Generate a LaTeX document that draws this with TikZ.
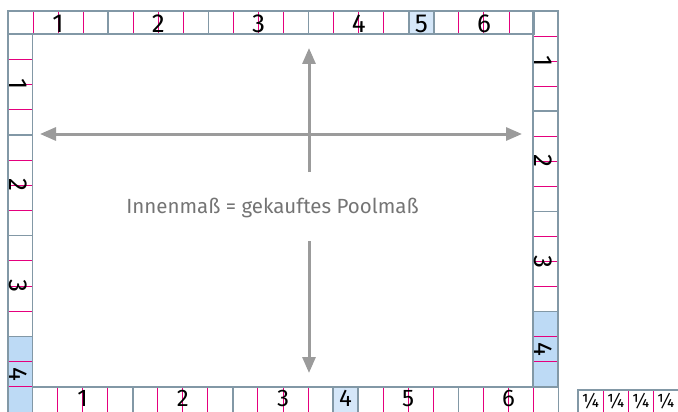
\documentclass[tikz,border=0pt]{standalone}
\usepackage{fontspec}
\setmainfont{Fira Sans}
\usetikzlibrary{arrows.meta}
\definecolor{tilegrey}{HTML}{8298A6}
\definecolor{markpink}{HTML}{E5007D}
\definecolor{bluefill}{HTML}{BDDAF5}
\definecolor{lightblue}{HTML}{D5E7F9}
\definecolor{arrowgrey}{HTML}{9B9B9B}
\definecolor{textgrey}{HTML}{747474}
\begin{document}
\begin{tikzpicture}[x=1pt,y=-1pt,
  tileline/.style={draw=tilegrey,line width=1.6pt},
  markline/.style={draw=markpink,line width=1pt},
  num/.style={font=\fontsize{26}{26}\selectfont,inner sep=0pt,text depth=0pt,anchor=base,text=black},
  botnum/.style={num,font=\fontsize{24}{24}\selectfont},
  sidenum/.style={num,rotate=-90},
  quarter/.style={font=\fontsize{19}{19}\selectfont,inner sep=0pt,text depth=0pt,anchor=base,text=black},
  dimline/.style={draw=arrowgrey,line width=3pt},
  tip/.style={-{Triangle[length=16pt,width=13pt]}},
  tips/.style={{Triangle[length=16pt,width=13pt]}-{Triangle[length=16pt,width=13pt]}}]
\useasboundingbox (0,0) rectangle (678,412);
\clip (0,0) rectangle (678,412);
\def\q{25.05}
\def\ql{25.2}
% ---------- top row ----------
\fill[lightblue] ({8+16*\q},11) rectangle ({8+17*\q},34);
\foreach \i in {1,2,3,5,6,7,9,10,11,13,14,15,18,19,20}
  \draw[markline] ({8+\i*\q},11) -- ({8+\i*\q},34);
\foreach \a/\b in {0/4,4/8,8/12,12/16,16/17,17/21}
  \draw[tileline] ({8+\a*\q},11) rectangle ({8+\b*\q},34);
% ---------- right column ----------
\fill[bluefill] (533,{11+12*\q}) rectangle (558,{11+15*\q});
\foreach \i in {1,2,3,5,6,7,9,10,11,13,14}
  \draw[markline] (533,{11+\i*\q}) -- (558,{11+\i*\q});
\foreach \a/\b in {0/4,4/8,8/12,12/15}
  \draw[tileline] (533,{11+\a*\q}) rectangle (558,{11+\b*\q});
% ---------- bottom row ----------
\fill[lightblue] ({32.5+12*\q},387) rectangle ({32.5+13*\q},414);
\foreach \i in {1,2,3,5,6,7,9,10,11,14,15,16,18,19,20}
  \draw[markline] ({32.5+\i*\q},387) -- ({32.5+\i*\q},414);
\foreach \a/\b in {0/4,4/8,8/12,12/13,13/17,17/21}
  \draw[tileline] ({32.5+\a*\q},387) rectangle ({32.5+\b*\q},414);
% ---------- left column ----------
\fill[bluefill] (8,{34+12*\ql}) rectangle (32.5,414);
\foreach \i in {1,2,3,5,6,7,9,10,11,13,14}
  \draw[markline] (8,{34+\i*\ql}) -- (32.5,{34+\i*\ql});
\foreach \a/\b in {0/4,4/8,8/12}
  \draw[tileline] (8,{34+\a*\ql}) rectangle (32.5,{34+\b*\ql});
\draw[tileline] (8,{34+12*\ql}) rectangle (32.5,414);
% ---------- legend ----------
\foreach \i in {1,2,3}
  \draw[markline] ({578+\i*25.1},390) -- ({578+\i*25.1},414);
\draw[tileline] (578,390) rectangle (680,414);
% ---------- labels ----------
\node[num] (t1) at ({8+2*\q},33) {1};
\node[num] (t2) at ({8+6*\q},33) {2};
\node[num] (t3) at ({8+10*\q},33) {3};
\node[num] (t4) at ({8+14*\q},33) {4};
\node[num] (t5) at ({8+16.5*\q},33) {5};
\node[num] (t6) at ({8+19*\q},33) {6};
\node[botnum] (b1) at ({32.5+2*\q},406) {1};
\node[botnum] (b2) at ({32.5+6*\q},406) {2};
\node[botnum] (b3) at ({32.5+10*\q},406) {3};
\node[botnum] (b4) at ({32.5+12.5*\q},406) {4};
\node[botnum] (b5) at ({32.5+15*\q},406) {5};
\node[botnum] (b6) at ({32.5+19*\q},406) {6};
\node[sidenum] (l1) at (9.5,{34+2*\ql}) {1};
\node[sidenum] (l2) at (9.5,{34+6*\ql}) {2};
\node[sidenum] (l3) at (9.5,{34+10*\ql}) {3};
\node[sidenum] (l4) at (9.5,{34+13.5*\ql}) {4};
\node[sidenum] (r1) at (534.5,{11+2*\q}) {1};
\node[sidenum] (r2) at (534.5,{11+6*\q}) {2};
\node[sidenum] (r3) at (534.5,{11+10*\q}) {3};
\node[sidenum] (r4) at (534.5,{11+13.5*\q}) {4};
\foreach \i in {0,1,2,3}
  \node[quarter] (qq\i) at ({590.5+\i*25.1},407) {¼};
% ---------- dimension arrows ----------
\node[font=\fontsize{20.5}{20.5}\selectfont,text=textgrey,inner sep=0pt,anchor=base] (lbl) at (272.5,213.5) {Innenmaß = gekauftes Poolmaß};
\coordinate (hl) at (40,134);
\coordinate (hr) at (522,134);
\coordinate (vtop) at (309,48);
\coordinate (vtopstart) at (309,172);
\coordinate (vbotstart) at (309,241);
\coordinate (vbot) at (309,373);
\draw[dimline,tips] (hl) -- (hr);
\draw[dimline,tip] (vtopstart) -- (vtop);
\draw[dimline,tip] (vbotstart) -- (vbot);
\end{tikzpicture}
\end{document}
